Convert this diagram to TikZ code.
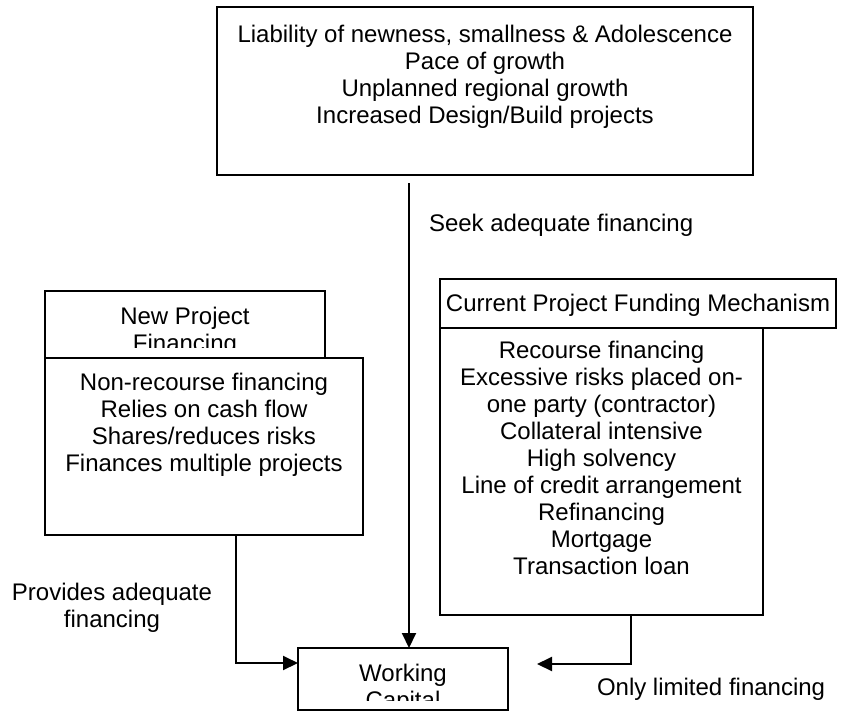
\documentclass[tikz,border=0pt]{standalone}
\usepackage{fontspec}
\setmainfont{Liberation Sans}
\usetikzlibrary{arrows.meta}
\begin{document}
\begin{tikzpicture}[x=1pt,y=-1pt,
  boxnode/.style={draw=black, line width=1.3pt, rectangle, inner sep=0pt, outer sep=0pt},
  txt/.style={inner sep=0pt, outer sep=0pt, align=center, font=\fontsize{24}{27}\selectfont},
  arr/.style={line width=2pt, -{Triangle[length=15pt,width=14pt]}}
]
\useasboundingbox (0,0) rectangle (841,713);
\fill[white] (0,0) rectangle (841,713);

% boxes
\node[boxnode, minimum width=536pt, minimum height=168pt] (T) at (485,91) {};
\node[boxnode, minimum width=280pt, minimum height=67pt] (NH) at (185,324.5) {};
\node[boxnode, minimum width=318pt, minimum height=177pt] (NL) at (204,446.5) {};
\node[boxnode, minimum width=396pt, minimum height=49pt] (CH) at (638,303.5) {};
\node[boxnode, minimum width=323pt, minimum height=287pt] (CL) at (601.5,471.5) {};
\node[boxnode, minimum width=210pt, minimum height=62pt] (WC) at (403,679) {};

% texts
\node[txt, anchor=north] (Ttxt) at (485,24) {\rule{0pt}{18pt}Liability of newness, smallness \& Adolescence\\Pace of growth\\Unplanned regional growth\\Increased Design/Build projects};
\node[txt, anchor=base west] (seek) at (429,231) {Seek adequate financing};
\begin{scope}
  \clip (45,291) rectangle (325,347);
  \node[txt, anchor=north] (NHtxt) at (185,306) {\rule{0pt}{18pt}New Project\\Financing};
\end{scope}
\node[txt, anchor=north] (NLtxt) at (204,372) {\rule{0pt}{18pt}Non-recourse financing\\Relies on cash flow\\Shares/reduces risks\\Finances multiple projects};
\node[txt, anchor=base] (CHtxt) at (638,311) {Current Project Funding Mechanism};
\node[txt, anchor=north] (CLtxt) at (601.5,340) {\rule{0pt}{18pt}Recourse financing\\Excessive risks placed on-\\one party (contractor)\\Collateral intensive\\High solvency\\Line of credit arrangement\\Refinancing\\Mortgage\\Transaction loan};
\begin{scope}
  \clip (298,648) rectangle (508,700);
  \node[txt, anchor=north] (WCtxt) at (403,663) {\rule{0pt}{18pt}Working\\Capital};
\end{scope}
\node[txt, anchor=north] (prov) at (112,582) {\rule{0pt}{18pt}Provides adequate\\financing};
\node[txt, anchor=base west] (only) at (597,695) {Only limited financing};

% connectors
\coordinate (s) at (409,183);
\draw[arr] (s) -- (s |- WC.north);
\coordinate (lh) at (236,663);
\draw[arr] (NL.south -| lh) -- (lh) -- (lh -| WC.west);
\coordinate (rh) at (631,664);
\coordinate (rt) at (537,664);
\draw[arr] (CL.south -| rh) -- (rh) -- (rt);
\end{tikzpicture}
\end{document}
